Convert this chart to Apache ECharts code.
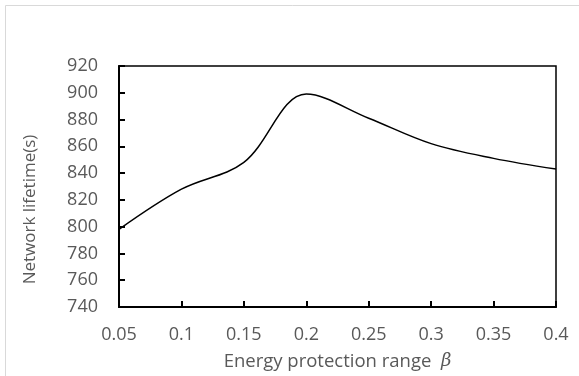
<!DOCTYPE html>
<html>
<head>
<meta charset="utf-8">
<script src="https://cdn.jsdelivr.net/npm/echarts@6/dist/echarts.min.js"></script>
<style>
  html, body { margin: 0; padding: 0; background: #fff; }
  #chart { width: 579px; height: 376px; }
</style>
</head>
<body>
<div id="chart"></div>
<script>
// values
const betaLabels = ["0.05", "0.1", "0.15", "0.2", "0.25", "0.3", "0.35", "0.4"];
const lifetime = [798, 828, 848, 899, 881, 862, 851, 843];
const yMin = 740;
const yMax = 920;
const yStep = 20;

const chart = echarts.init(document.getElementById("chart"));
const gray = "#595959";
const font = "Open Sans";

chart.setOption({
  animation: false,
  backgroundColor: "#fff",
  graphic: [
    {
      type: "rect",
      shape: { x: 5.5, y: 5.5, width: 600, height: 400 },
      style: { fill: "none", stroke: "#d9d9d9", lineWidth: 1 },
    },
  ],
  grid: {
    left: 119,
    right: 23,
    top: 66,
    bottom: 68,
    show: true,
    borderColor: "#000",
    borderWidth: 1.5,
    backgroundColor: "transparent",
  },
  xAxis: {
    type: "category",
    boundaryGap: false,
    data: betaLabels,
    axisLine: { lineStyle: { color: "#000", width: 2 } },
    axisTick: { inside: true, length: 6, lineStyle: { color: "#000", width: 2 } },
    axisLabel: { color: gray, fontFamily: font, fontSize: 18, margin: 19 },
    splitLine: { show: false },
    name: "Energy protection range  {b|β}",
    nameLocation: "middle",
    nameGap: 45,
    nameTextStyle: {
      color: gray,
      fontFamily: font,
      fontSize: 18.5,
      rich: {
        b: { color: gray, fontFamily: "DejaVu Serif", fontStyle: "italic", fontSize: 18 },
      },
    },
  },
  yAxis: {
    type: "value",
    min: yMin,
    max: yMax,
    interval: yStep,
    axisLine: { show: true, lineStyle: { color: "#000", width: 2 } },
    axisTick: { show: true, inside: true, length: 6, lineStyle: { color: "#000", width: 2 } },
    axisLabel: { color: gray, fontFamily: font, fontSize: 18, margin: 21 },
    splitLine: { show: false },
    name: "Network lifetime(s)",
    nameLocation: "middle",
    nameGap: 80,
    nameTextStyle: { color: gray, fontFamily: font, fontSize: 17, padding: [0, 46, 0, 0] },
  },
  series: [
    {
      type: "line",
      data: lifetime,
      smooth: 0.35,
      showSymbol: false,
      lineStyle: { color: "#000", width: 1.5 },
    },
  ],
});
</script>
</body>
</html>
